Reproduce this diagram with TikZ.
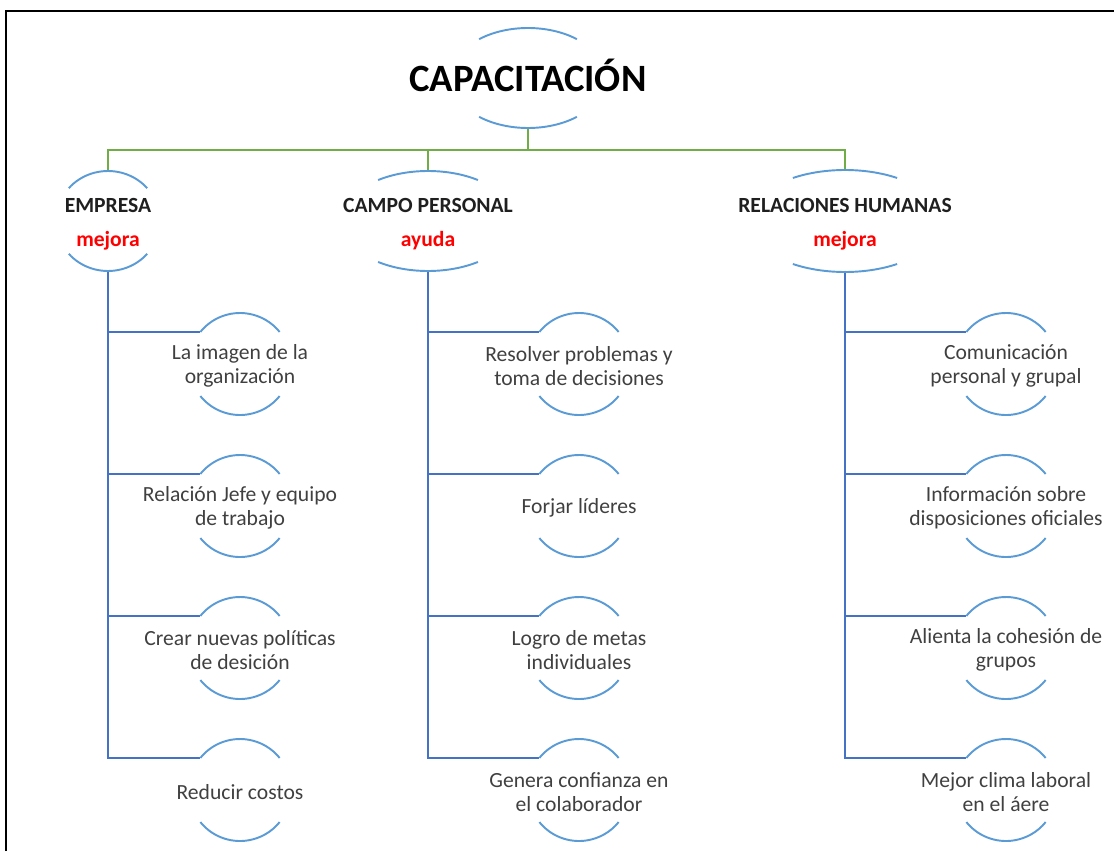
\documentclass[tikz,border=0pt]{standalone}
\usepackage{fontspec}
\setmainfont{Carlito}
\usepackage{tikz}
\usetikzlibrary{shapes.geometric}
\usepackage{xcolor}
\definecolor{arcblue}{RGB}{91,155,213}
\definecolor{linkblue}{RGB}{68,114,196}
\definecolor{linkgreen}{RGB}{112,173,71}
\definecolor{itemgray}{RGB}{64,64,64}
\definecolor{hired}{RGB}{255,0,0}
\tikzset{
	item/.style={circle,inner sep=0pt,outer sep=0pt,minimum size=2.04cm},
	itemtext/.style={align=center,text=itemgray,yshift=-0.04cm,font=\fontsize{12.3}{13.6}\selectfont},
	hub/.style={ellipse,inner sep=0pt,outer sep=0pt,minimum height=2cm},
	hubtext/.style={align=center,text=black!88,yshift=-0.06cm,font=\bfseries\fontsize{12.3}{13.6}\selectfont},
	rim/.style={draw=arcblue,line width=1.1pt},
	trunk/.style={draw=linkgreen,line width=1.1pt},
	branch/.style={draw=linkblue,line width=1.1pt}
}
\newcommand{\tag}[1]{\\[6pt]{\color{hired}#1}}
\begin{document}
\begin{tikzpicture}[x=0.02cm,y=0.02cm]
				\useasboundingbox (0,0) rectangle (1114,-851);
				\draw[line width=1.4pt] (6,-851) -- (6,-11) -- (1114,-11);
				\node[hub,minimum width=3.1cm,label={[text=black,yshift=0.05cm,font=\bfseries\fontsize{22}{26}\selectfont]center:CAPACITACIÓN}] (cap) at (528,-78) {};
				\node[hub,minimum width=2.08cm,label={[hubtext]center:EMPRESA\tag{mejora}}] (emp) at (108,-221) {};
				\node[hub,minimum width=3.48cm,label={[hubtext]center:CAMPO PERSONAL\tag{ayuda}}] (cam) at (428,-221) {};
				\node[hub,minimum width=3.88cm,label={[hubtext]center:RELACIONES HUMANAS\tag{mejora}}] (rel) at (845,-221) {};
				\node[item,label={[itemtext]center:La imagen de la\\organización}] (e1) at (240,-364) {};
				\node[item,label={[itemtext]center:Relación Jefe y equipo\\de trabajo}] (e2) at (240,-506) {};
				\node[item,label={[itemtext]center:Crear nuevas políticas\\de desición}] (e3) at (240,-648) {};
				\node[item,label={[itemtext]center:Reducir costos}] (e4) at (240,-790) {};
				\node[item,label={[itemtext]center:Resolver problemas y\\toma de decisiones}] (c1) at (579,-364) {};
				\node[item,label={[itemtext]center:Forjar líderes}] (c2) at (579,-506) {};
				\node[item,label={[itemtext]center:Logro de metas\\individuales}] (c3) at (579,-648) {};
				\node[item,label={[itemtext]center:Genera confianza en\\el colaborador}] (c4) at (579,-790) {};
				\node[item,label={[itemtext]center:Comunicación\\personal y grupal}] (r1) at (1006,-364) {};
				\node[item,label={[itemtext]center:Información sobre\\disposiciones oficiales}] (r2) at (1006,-506) {};
				\node[item,label={[itemtext]center:Alienta la cohesión de\\grupos}] (r3) at (1006,-648) {};
				\node[item,label={[itemtext]center:Mejor clima laboral\\en el áere}] (r4) at (1006,-790) {};
				\coordinate (fork) at (528,-150);
				\draw[trunk] (cap.south) -- (fork);
				\draw[trunk] (emp.north) |- (fork) -| (rel.north);
				\draw[trunk] (cam.north) -- (cam.north |- fork);
				\foreach \h/\k in {emp/e,cam/c,rel/r}
					\foreach \i in {1,...,4}
						\draw[branch] (\h.south) |- (\k\i.141);
				\foreach \n/\rx/\ry/\t in {cap/77.6/50/51,emp/52/50/41,cam/87/50/55,rel/97/51/57.5,e1/51/51/39,e2/51/51/39,e3/51/51/39,e4/51/51/39,c1/51/51/39,c2/51/51/39,c3/51/51/39,c4/51/51/39,r1/51/51/39,r2/51/51/39,r3/51/51/39,r4/51/51/39}
				{
					\pgfmathsetmacro{\ta}{180-\t}
					\pgfmathsetmacro{\tb}{180+\t}
					\pgfmathsetmacro{\tc}{360-\t}
					\draw[rim] (\n.center) ++({\rx*cos(\ta)},{\ry*sin(\ta)}) arc[start angle=\ta,end angle=\t,x radius=\rx,y radius=\ry];
					\draw[rim] (\n.center) ++({\rx*cos(\tb)},{\ry*sin(\tb)}) arc[start angle=\tb,end angle=\tc,x radius=\rx,y radius=\ry];
				}
			\end{tikzpicture}
\end{document}
